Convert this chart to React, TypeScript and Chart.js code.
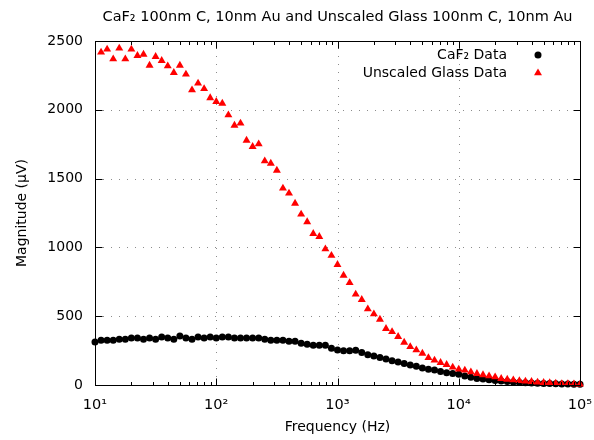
import { useEffect, useRef } from 'react';
import { Chart, registerables } from 'chart.js';
import { drawPoint } from 'chart.js/helpers';

Chart.register(...registerables);

// Frequencies (Hz), 20 log-spaced points per decade
const frequencies = [
  10, 11.22, 12.59, 14.13, 15.85, 17.78, 19.95, 22.39, 25.12, 28.18, 31.62, 35.48, 39.81, 44.67, 50.12, 56.23, 63.1, 70.79, 79.43, 89.13,
  100, 112.2, 125.9, 141.3, 158.5, 177.8, 199.5, 223.9, 251.2, 281.8, 316.2, 354.8, 398.1, 446.7, 501.2, 562.3, 631, 707.9, 794.3, 891.3,
  1000, 1122, 1259, 1413, 1585, 1778, 1995, 2239, 2512, 2818, 3162, 3548, 3981, 4467, 5012, 5623, 6310, 7079, 7943, 8913,
  10000, 11220, 12589, 14125, 15849, 17783, 19953, 22387, 25119, 28184, 31623, 35481, 39811, 44668, 50119, 56234, 63096, 70795, 79433, 89125,
  100000,
];

// CaF2 magnitudes (µV), one per frequency
const caf2Values = [
  312, 325, 325, 325, 332, 332, 342, 342, 332, 342, 332, 349, 342, 332, 356, 342, 332, 349, 342, 349,
  342, 349, 349, 342, 342, 342, 342, 342, 332, 325, 325, 325, 318, 318, 303, 296, 288, 288, 288, 267,
  254, 249, 249, 252, 236, 220, 211, 199, 189, 177, 167, 157, 145, 136, 124, 115, 109, 99, 89, 84,
  78, 66, 56, 48, 44, 38, 33, 29, 25, 22, 19, 17, 15, 13, 11, 10, 9, 8, 7, 6,
  5,
];

// Unscaled glass magnitudes (µV), starting at the second frequency
const glassFrequencies = frequencies.slice(1);
const glassValues = [
  2418, 2440, 2369, 2447, 2369, 2440, 2393, 2403, 2323, 2386, 2357, 2318, 2270, 2323, 2258, 2144, 2193, 2153, 2086, 2059,
  2047, 1962, 1887, 1902, 1778, 1732, 1751, 1628, 1611, 1560, 1430, 1393, 1320, 1241, 1185, 1100, 1078, 988, 941, 875,
  797, 743, 659, 620, 552, 516, 477, 409, 387, 351, 310, 278, 254, 230, 198, 180, 162, 148, 129, 114,
  107, 94, 82, 73, 65, 58, 46, 41, 36, 31, 27, 24, 20, 17, 15, 12, 9, 9, 7, 5,
];

const xTickValues = [10, 100, 1000, 10000, 100000];
const xTickLabels = ['10¹', '10²', '10³', '10⁴', '10⁵'];
const yTickValues = [0, 500, 1000, 1500, 2000, 2500];
const xGridValues = [100, 1000, 10000];
const yGridValues = [500, 1000, 1500, 2000];
const minorMultipliers = [2, 3, 4, 5, 6, 7, 8, 9];

const TITLE = 'CaF₂ 100nm C, 10nm Au and Unscaled Glass 100nm C, 10nm Au';
const FONT = 'DejaVu Sans';

const framePlugin = {
  id: 'gnuframe',
  beforeDatasetsDraw(chart: any) {
    const { ctx, chartArea: a, scales } = chart;
    const x = scales.x;
    const y = scales.y;
    ctx.save();
    ctx.strokeStyle = '#8c8c8c';
    ctx.lineWidth = 1;
    ctx.setLineDash([1, 7]);
    for (const v of xGridValues) {
      const px = Math.round(x.getPixelForValue(v)) + 0.5;
      ctx.beginPath();
      ctx.moveTo(px, a.bottom);
      ctx.lineTo(px, a.top);
      ctx.stroke();
    }
    for (const v of yGridValues) {
      const py = Math.round(y.getPixelForValue(v)) + 0.5;
      ctx.beginPath();
      ctx.moveTo(a.left, py);
      ctx.lineTo(a.right, py);
      ctx.stroke();
    }
    ctx.restore();
  },
  afterDatasetsDraw(chart: any) {
    const { ctx, chartArea: a, scales } = chart;
    const x = scales.x;
    const y = scales.y;
    const L = Math.round(a.left) + 0.5;
    const R = Math.round(a.right) + 0.5;
    const T = Math.round(a.top) + 0.5;
    const B = Math.round(a.bottom) + 0.5;
    ctx.save();
    ctx.strokeStyle = '#000';
    ctx.lineWidth = 1;
    ctx.setLineDash([]);
    ctx.strokeRect(L, T, R - L, B - T);
    ctx.beginPath();
    const major = 7;
    const minor = 3.5;
    for (const v of xTickValues) {
      const px = Math.round(x.getPixelForValue(v)) + 0.5;
      ctx.moveTo(px, B); ctx.lineTo(px, B - major);
      ctx.moveTo(px, T); ctx.lineTo(px, T + major);
      if (v < 100000) {
        for (const m of minorMultipliers) {
          const qx = Math.round(x.getPixelForValue(v * m)) + 0.5;
          ctx.moveTo(qx, B); ctx.lineTo(qx, B - minor);
          ctx.moveTo(qx, T); ctx.lineTo(qx, T + minor);
        }
      }
    }
    for (const v of yTickValues) {
      const py = Math.round(y.getPixelForValue(v)) + 0.5;
      ctx.moveTo(L, py); ctx.lineTo(L + major, py);
      ctx.moveTo(R, py); ctx.lineTo(R - major, py);
    }
    ctx.stroke();
    ctx.restore();
  },
  afterDraw(chart: any) {
    const { ctx, chartArea: a } = chart;
    ctx.save();
    ctx.fillStyle = '#000';
    ctx.font = `14.5px "${FONT}"`;
    ctx.textAlign = 'center';
    ctx.textBaseline = 'middle';
    ctx.fillText(TITLE, (a.left + a.right) / 2, 17);

    // legend, gnuplot style: text right-aligned, sample on the right
    ctx.font = `14px "${FONT}"`;
    const textRight = a.right - 73;
    const sampleX = a.right - 42;
    const rows = [a.top + 14, a.top + 32];
    chart.data.datasets.forEach((ds: any, i: number) => {
      ctx.fillStyle = '#000';
      ctx.textAlign = 'right';
      ctx.fillText(ds.label, textRight, rows[i]);
      ctx.fillStyle = ds.backgroundColor;
      ctx.strokeStyle = ds.backgroundColor;
      drawPoint(ctx, { pointStyle: ds.pointStyle, radius: ds.pointRadius, rotation: 0, borderWidth: 0 } as any, sampleX, rows[i]);
    });
    ctx.restore();
  },
};

export default function App() {
  const ref = useRef<HTMLCanvasElement | null>(null);

  useEffect(() => {
    if (!ref.current) return;
    const tickFont = { family: FONT, size: 14 };
    const chart = new Chart(ref.current, {
      type: 'scatter',
      data: {
        datasets: [
          {
            label: 'CaF₂ Data',
            data: frequencies.map((f, i) => ({ x: f, y: caf2Values[i] })),
            pointStyle: 'circle',
            pointRadius: 3.5,
            backgroundColor: '#000000',
            borderColor: '#000000',
            borderWidth: 0,
            showLine: false,
            clip: false,
            order: 2,
          } as any,
          {
            label: 'Unscaled Glass Data',
            data: glassFrequencies.map((f, i) => ({ x: f, y: glassValues[i] })),
            pointStyle: 'triangle',
            pointRadius: 4.6,
            backgroundColor: '#ff0000',
            borderColor: '#ff0000',
            borderWidth: 0,
            showLine: false,
            clip: false,
            order: 1,
          } as any,
        ],
      },
      options: {
        animation: false,
        responsive: false,
        devicePixelRatio: 1,
        events: [],
        layout: { padding: { top: 41, right: 14, left: 0, bottom: 0 } },
        plugins: {
          legend: { display: false },
          title: { display: false },
          tooltip: { enabled: false },
        },
        scales: {
          x: {
            type: 'logarithmic',
            min: 10,
            max: 100000,
            grid: { display: false, drawTicks: false },
            border: { display: false },
            afterBuildTicks: (s: any) => {
              s.ticks = xTickValues.map((v) => ({ value: v }));
            },
            afterFit: (s: any) => {
              s.height = 55;
              s.paddingLeft = 0;
              s.paddingRight = 0;
            },
            ticks: {
              autoSkip: false,
              maxRotation: 0,
              minRotation: 0,
              padding: 12,
              color: '#000',
              font: { family: FONT, size: 14.5 },
              callback: (v: any) => {
                const i = xTickValues.indexOf(Number(v));
                return i >= 0 ? xTickLabels[i] : '';
              },
            },
            title: {
              display: true,
              text: 'Frequency (Hz)',
              color: '#000',
              font: tickFont,
              padding: { top: 0, bottom: 4.6 },
            },
          },
          y: {
            type: 'linear',
            min: 0,
            max: 2500,
            grid: { display: false, drawTicks: false },
            border: { display: false },
            afterBuildTicks: (s: any) => {
              s.ticks = yTickValues.map((v) => ({ value: v }));
            },
            afterFit: (s: any) => {
              s.width = 95;
              s.paddingTop = 0;
              s.paddingBottom = 0;
            },
            ticks: {
              autoSkip: false,
              padding: 12,
              color: '#000',
              font: tickFont,
              callback: (v: any) => String(v),
            },
            title: {
              display: true,
              text: 'Magnitude (μV)',
              color: '#000',
              font: tickFont,
              padding: { top: 13.6, bottom: 0 },
            },
          },
        },
      } as any,
      plugins: [framePlugin],
    });
    return () => chart.destroy();
  }, []);

  return (
    <div style={{ position: 'absolute', left: 0, top: 0, width: 594, height: 440, background: '#fff' }}>
      <canvas ref={ref} width={594} height={440} style={{ width: 594, height: 440, display: 'block' }} />
    </div>
  );
}
